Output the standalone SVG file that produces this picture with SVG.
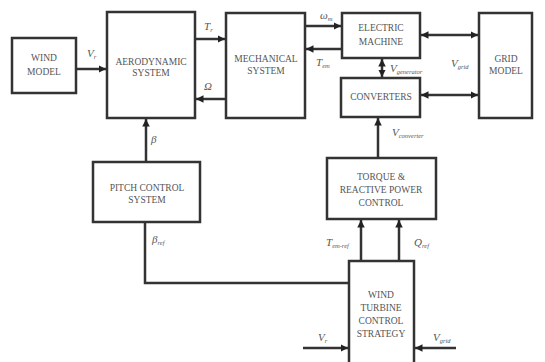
<svg xmlns="http://www.w3.org/2000/svg" width="545" height="362" viewBox="0 0 545 362">
<defs>
<style>
.box{fill:#fff;stroke:#333;stroke-width:2.5}
.ln{fill:none;stroke:#333;stroke-width:2.5}
.t{font-family:"Liberation Serif",serif;font-size:9.5px;fill:#555;text-anchor:middle}
.l{font-family:"Liberation Serif",serif;font-size:11px;font-style:italic;fill:#555}
.s{font-size:6.5px}
</style>
<marker id="ah" viewBox="0 0 8 8" refX="8" refY="4" markerWidth="3" markerHeight="3" orient="auto-start-reverse" markerUnits="strokeWidth">
<path d="M0,0L8,4L0,8z" fill="#222"/>
</marker>
</defs>
<rect width="545" height="362" fill="#fff"/>
<g id="connectors">
<line class="ln" x1="76" y1="69" x2="106" y2="69" marker-end="url(#ah)"/>
<line class="ln" x1="195" y1="39" x2="225" y2="39" marker-end="url(#ah)"/>
<line class="ln" x1="226" y1="99" x2="196" y2="99" marker-end="url(#ah)"/>
<line class="ln" x1="305" y1="26" x2="341" y2="26" marker-end="url(#ah)"/>
<line class="ln" x1="342" y1="49" x2="306" y2="49" marker-end="url(#ah)"/>
<line class="ln" x1="421" y1="35" x2="478" y2="35" marker-start="url(#ah)" marker-end="url(#ah)"/>
<line class="ln" x1="421" y1="95" x2="478" y2="95" marker-start="url(#ah)" marker-end="url(#ah)"/>
<line class="ln" x1="382" y1="59" x2="382" y2="77" marker-start="url(#ah)" marker-end="url(#ah)"/>
<line class="ln" x1="378" y1="158" x2="378" y2="118" marker-end="url(#ah)"/>
<line class="ln" x1="146" y1="162" x2="146" y2="119" marker-end="url(#ah)"/>
<polyline class="ln" points="145,222 145,283 349,283"/>
<line class="ln" x1="361" y1="261" x2="361" y2="220" marker-end="url(#ah)"/>
<line class="ln" x1="399" y1="261" x2="399" y2="220" marker-end="url(#ah)"/>
<line class="ln" x1="303" y1="348" x2="348" y2="348" marker-end="url(#ah)"/>
<line class="ln" x1="456" y1="348" x2="415" y2="348" marker-end="url(#ah)"/>
</g>
<g id="wind-model"><rect class="box" x="12" y="38" width="64" height="55"/><text class="t" x="44" y="61">WIND</text><text class="t" x="44" y="75">MODEL</text></g>
<g id="aerodynamic-system"><rect class="box" x="107" y="12" width="88" height="106"/><text class="t" x="151" y="65">AERODYNAMIC</text><text class="t" x="151" y="76">SYSTEM</text></g>
<g id="mechanical-system"><rect class="box" x="226" y="13" width="79" height="105"/><text class="t" x="266" y="62">MECHANICAL</text><text class="t" x="266" y="74">SYSTEM</text></g>
<g id="electric-machine"><rect class="box" x="342" y="13" width="78" height="45"/><text class="t" x="381" y="31">ELECTRIC</text><text class="t" x="381" y="45">MACHINE</text></g>
<g id="converters"><rect class="box" x="341" y="78" width="79" height="39"/><text class="t" x="381" y="100">CONVERTERS</text></g>
<g id="grid-model"><rect class="box" x="479" y="13" width="53" height="105"/><text class="t" x="506" y="62">GRID</text><text class="t" x="506" y="74">MODEL</text></g>
<g id="pitch-control"><rect class="box" x="93" y="162" width="107" height="60"/><text class="t" x="147" y="191">PITCH CONTROL</text><text class="t" x="147" y="203">SYSTEM</text></g>
<g id="torque-control"><rect class="box" x="327" y="158" width="109" height="61"/><text class="t" x="381" y="180">TORQUE &amp;</text><text class="t" x="381" y="193">REACTIVE POWER</text><text class="t" x="381" y="206">CONTROL</text></g>
<g id="wt-control-strategy"><rect class="box" x="349" y="261" width="65" height="110"/><text class="t" x="381" y="298">WIND</text><text class="t" x="381" y="311">TURBINE</text><text class="t" x="381" y="324">CONTROL</text><text class="t" x="381" y="337">STRATEGY</text></g>
<g id="labels">
<text class="l" x="87" y="57">V<tspan class="s" dy="2">r</tspan></text>
<text class="l" x="204" y="30">T<tspan class="s" dy="2">r</tspan></text>
<text class="l" x="204" y="90">Ω</text>
<text class="l" x="320" y="19" font-size="8">ω<tspan class="s" dy="2">m</tspan></text>
<text class="l" x="316" y="66">T<tspan class="s" dy="2">em</tspan></text>
<text class="l" x="390" y="72">V<tspan class="s" dy="2">generator</tspan></text>
<text class="l" x="451" y="67">V<tspan class="s" dy="2">grid</tspan></text>
<text class="l" x="392" y="136">V<tspan class="s" dy="2">converter</tspan></text>
<text class="l" x="151" y="143">β</text>
<text class="l" x="152" y="243">β<tspan class="s" dy="2">ref</tspan></text>
<text class="l" x="326" y="246">T<tspan class="s" dy="2">em-ref</tspan></text>
<text class="l" x="414" y="246">Q<tspan class="s" dy="2">ref</tspan></text>
<text class="l" x="318" y="341">V<tspan class="s" dy="2">r</tspan></text>
<text class="l" x="433" y="341">V<tspan class="s" dy="2">grid</tspan></text>
</g>
</svg>
